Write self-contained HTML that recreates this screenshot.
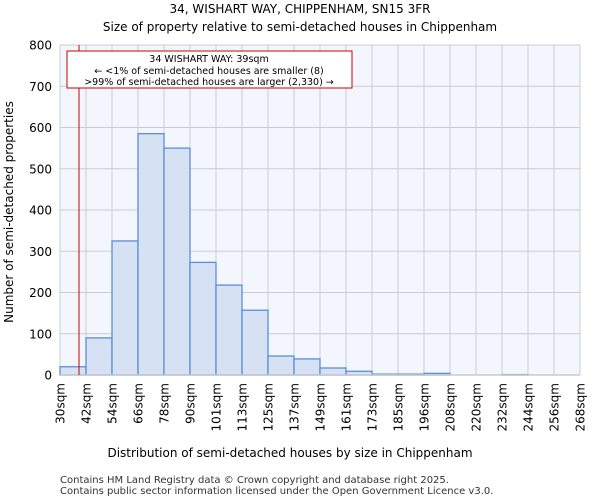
<!DOCTYPE html>
<html><head><meta charset="utf-8"><style>
body{margin:0;background:#fff;font-family:"DejaVu Sans","Liberation Sans",sans-serif;}
</style></head><body>
<svg width="600" height="500" xmlns="http://www.w3.org/2000/svg" font-family="DejaVu Sans, Liberation Sans, sans-serif">
<text x="300" y="13" text-anchor="middle" font-size="12">34, WISHART WAY, CHIPPENHAM, SN15 3FR</text>
<text x="300" y="31" text-anchor="middle" font-size="12">Size of property relative to semi-detached houses in Chippenham</text>
<rect x="60" y="45" width="520" height="330" fill="#f3f6fd"/>
<g id="grid"></g>
<g id="bars"></g>
<g id="axes"></g>
<line x1="79" y1="45" x2="79" y2="375" stroke="#cc0000" stroke-width="1"/>
<rect x="67" y="51" width="285" height="37" fill="#fff" stroke="#cc0000" stroke-width="1"/>
<text x="209" y="62" text-anchor="middle" font-size="9.5">34 WISHART WAY: 39sqm</text>
<text x="209" y="74" text-anchor="middle" font-size="9.5">← &lt;1% of semi-detached houses are smaller (8)</text>
<text x="209" y="85" text-anchor="middle" font-size="9.5">&gt;99% of semi-detached houses are larger (2,330) →</text>
<text x="290" y="457" text-anchor="middle" font-size="12">Distribution of semi-detached houses by size in Chippenham</text>
<text transform="translate(13,212) rotate(-90)" text-anchor="middle" font-size="12">Number of semi-detached properties</text>
<text x="60" y="483" font-size="10" fill="#333">Contains HM Land Registry data © Crown copyright and database right 2025.</text>
<text x="60" y="494" font-size="10" fill="#333">Contains public sector information licensed under the Open Government Licence v3.0.</text>
</svg>
<script>
const categories=["30sqm","42sqm","54sqm","66sqm","78sqm","90sqm","101sqm","113sqm","125sqm","137sqm","149sqm","161sqm","173sqm","185sqm","196sqm","208sqm","220sqm","232sqm","244sqm","256sqm","268sqm"];
const counts=[20,90,325,585,550,273,218,157,46,39,17,9,2,2,4,0,0,1,0,0];
const yTicks=[0,100,200,300,400,500,600,700,800];
const NS="http://www.w3.org/2000/svg";
const X0=60,X1=580,Y0=375,Y1=45,YMAX=800;
const bw=(X1-X0)/counts.length;
const xs=i=>X0+i*bw;
const ys=v=>Y0-(v/YMAX)*(Y0-Y1);
function mk(tag,attrs,parent){const e=document.createElementNS(NS,tag);for(const k in attrs)e.setAttribute(k,attrs[k]);parent.appendChild(e);return e;}
const grid=document.getElementById('grid'),bars=document.getElementById('bars'),axes=document.getElementById('axes');
yTicks.forEach(t=>{
 const l=mk('line',{x1:X0,x2:X1,y1:ys(t),y2:ys(t),stroke:'#cccccc','stroke-width':1},grid);
 
 
 const tx=mk('text',{x:X0-8,y:ys(t)+4.5,'text-anchor':'end','font-size':12},axes);
 tx.textContent=t;
 
 
});
categories.forEach((c,i)=>{
 const x=xs(i);
 const l=mk('line',{x1:x,x2:x,y1:Y1,y2:Y0,stroke:'#cccccc','stroke-width':1},grid);
 
 
 const tx=mk('text',{transform:`translate(${x+4.5},${Y0+8}) rotate(-90)`,'text-anchor':'end','font-size':12},axes);
 tx.textContent=c;
 
 
});
counts.forEach((v,i)=>{
 const r=mk('rect',{x:xs(i),y:ys(v),width:bw,height:Y0-ys(v),fill:'#d6e1f3',stroke:'#5b8fd6','stroke-width':1.3},bars);
 
 
});
const ax=mk('line',{x1:X0,x2:X1,y1:Y0,y2:Y0,stroke:'#cccccc','stroke-width':1.5},axes);


</script>
</body></html>
